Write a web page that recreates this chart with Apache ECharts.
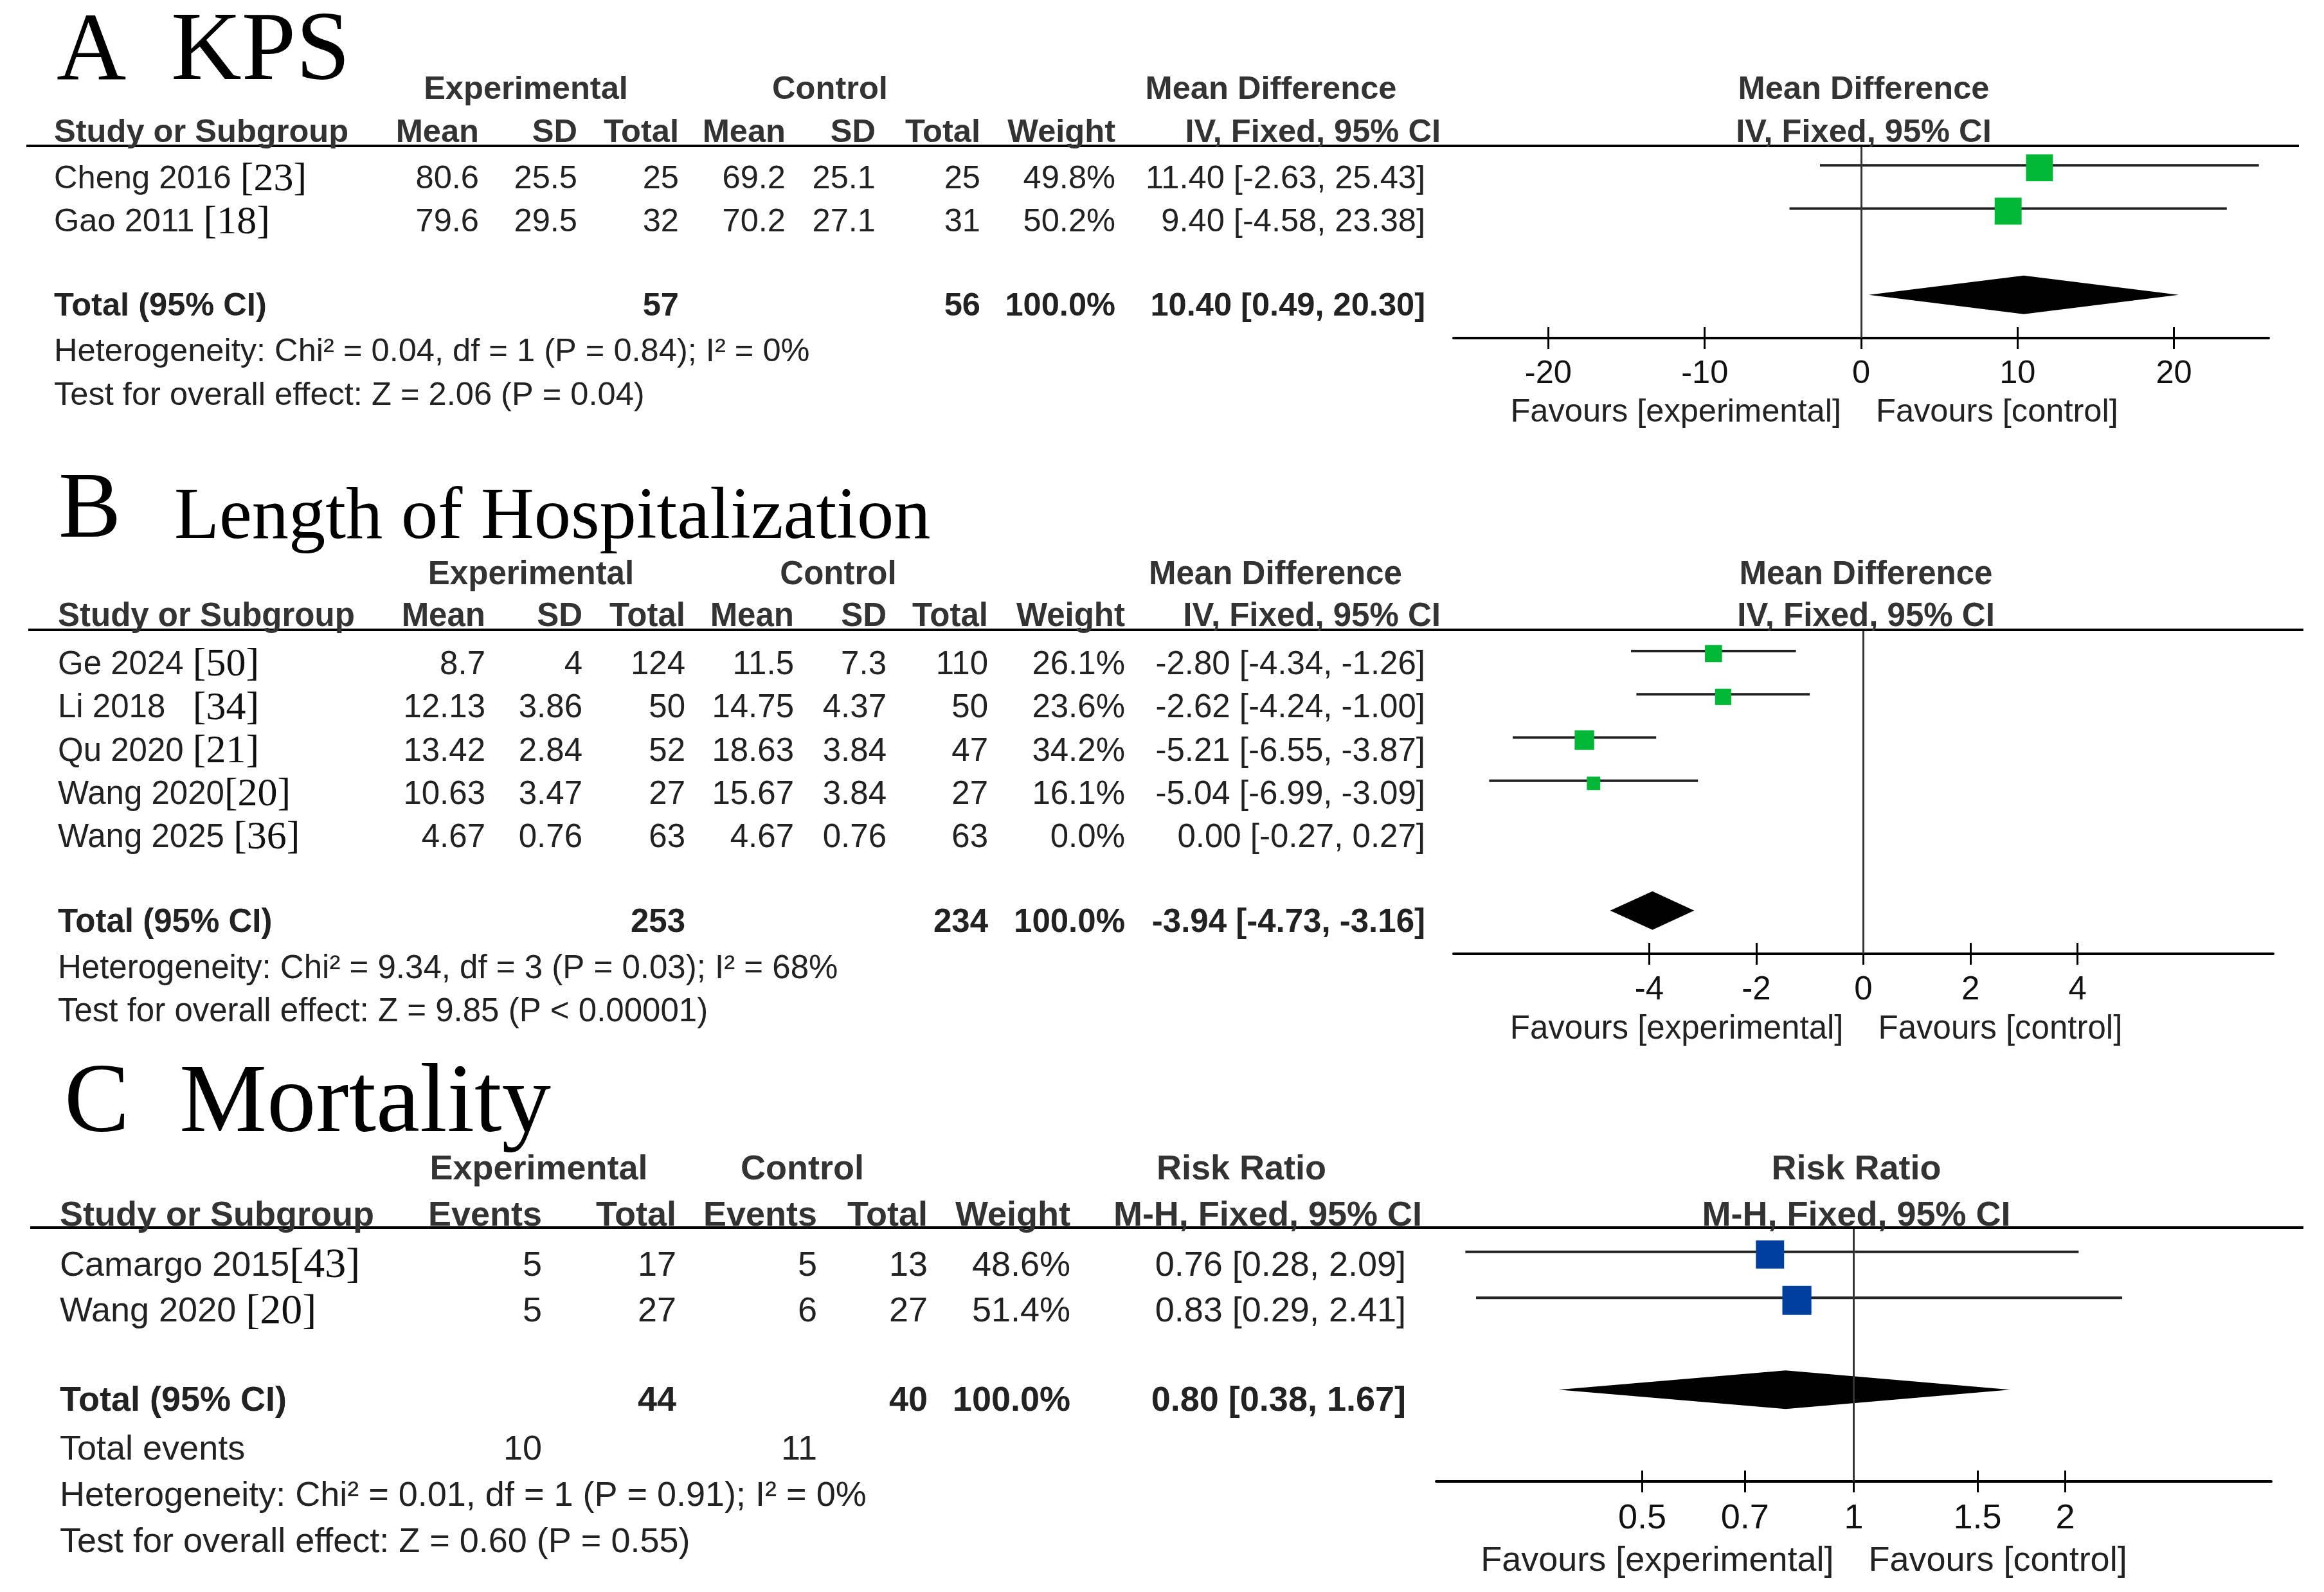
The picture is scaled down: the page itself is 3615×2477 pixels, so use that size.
<!DOCTYPE html>
<html><head><meta charset="utf-8">
<script src="https://cdn.jsdelivr.net/npm/echarts@6/dist/echarts.min.js"></script>
<style>html,body{margin:0;padding:0;background:#fff}#c{width:3615px;height:2477px}</style>
</head><body><div id="c"></div>
<script>
// ================= DATA =================
// ---- Panel A : KPS (Mean Difference) ----
const titleA = ['A', 'KPS'];
const studiesA = ['Cheng 2016 ', 'Gao 2011 '];
const refsA = ['[23]', '[18]'];
const expMeanA = [80.6, 79.6];
const expSdA = [25.5, 29.5];
const expNA = [25, 32];
const ctlMeanA = [69.2, 70.2];
const ctlSdA = [25.1, 27.1];
const ctlNA = [25, 31];
const weightA = [49.8, 50.2];
const mdA = [11.40, 9.40];
const loA = [-2.63, -4.58];
const hiA = [25.43, 23.38];
const totalNA = [57, 56];
const totalEstA = [10.40, 0.49, 20.30];
const hetA = 'Heterogeneity: Chi² = 0.04, df = 1 (P = 0.84); I² = 0%';
const testA = 'Test for overall effect: Z = 2.06 (P = 0.04)';
const ticksA = [-20, -10, 0, 10, 20];

// ---- Panel B : Length of Hospitalization (Mean Difference) ----
const titleB = ['B', 'Length of Hospitalization'];
const studiesB = ['Ge 2024 ', 'Li 2018   ', 'Qu 2020 ', 'Wang 2020', 'Wang 2025 '];
const refsB = ['[50]', '[34]', '[21]', '[20]', '[36]'];
const expMeanB = [8.7, 12.13, 13.42, 10.63, 4.67];
const expSdB = [4, 3.86, 2.84, 3.47, 0.76];
const expNB = [124, 50, 52, 27, 63];
const ctlMeanB = [11.5, 14.75, 18.63, 15.67, 4.67];
const ctlSdB = [7.3, 4.37, 3.84, 3.84, 0.76];
const ctlNB = [110, 50, 47, 27, 63];
const weightB = [26.1, 23.6, 34.2, 16.1, 0.0];
const mdB = [-2.80, -2.62, -5.21, -5.04, 0.00];
const loB = [-4.34, -4.24, -6.55, -6.99, -0.27];
const hiB = [-1.26, -1.00, -3.87, -3.09, 0.27];
const totalNB = [253, 234];
const totalEstB = [-3.94, -4.73, -3.16];
const hetB = 'Heterogeneity: Chi² = 9.34, df = 3 (P = 0.03); I² = 68%';
const testB = 'Test for overall effect: Z = 9.85 (P < 0.00001)';
const ticksB = [-4, -2, 0, 2, 4];

// ---- Panel C : Mortality (Risk Ratio) ----
const titleC = ['C', 'Mortality'];
const studiesC = ['Camargo 2015', 'Wang 2020 '];
const refsC = ['[43]', '[20]'];
const expEvC = [5, 5];
const expNC = [17, 27];
const ctlEvC = [5, 6];
const ctlNC = [13, 27];
const weightC = [48.6, 51.4];
const rrC = [0.76, 0.83];
const loC = [0.28, 0.29];
const hiC = [2.09, 2.41];
const totalNC = [44, 40];
const totalEstC = [0.80, 0.38, 1.67];
const totalEventsC = [10, 11];
const hetC = 'Heterogeneity: Chi² = 0.01, df = 1 (P = 0.91); I² = 0%';
const testC = 'Test for overall effect: Z = 0.60 (P = 0.55)';
const ticksC = [0.5, 0.7, 1, 1.5, 2];

// header texts
const head1MD = ['Experimental', 'Control', 'Mean Difference'];
const head1RR = ['Experimental', 'Control', 'Risk Ratio'];
const head2MD = ['Mean', 'SD', 'Total', 'Mean', 'SD', 'Total', 'Weight'];
const head2RR = ['Events', 'Total', 'Events', 'Total', 'Weight'];
const ciHeadMD = 'IV, Fixed, 95% CI';
const ciHeadRR = 'M-H, Fixed, 95% CI';
const plotHeadMD = ['Mean Difference', 'IV, Fixed, 95% CI'];
const plotHeadRR = ['Risk Ratio', 'M-H, Fixed, 95% CI'];
const favours = ['Favours [experimental]', 'Favours [control]'];

// ================= LAYOUT / STYLE =================
const SANS = 'Liberation Sans';
const SERIF = 'Liberation Serif';
const TXT = '#222';
const id = v => v;
const f2 = v => v.toFixed(2);
const ciStr = (e, l, h) => f2(e) + ' [' + f2(l) + ', ' + f2(h) + ']';
const pct = v => v.toFixed(1) + '%';
const sum = a => a.reduce((s, v) => s + v, 0);

const panels = [
  { // A
    fs: 50.6, refs: 62,
    grid: {top: 227, bottom: 526, left: 2261, right: 3529}, ymin: -0.45, ymax: 4, xmin: -26.06, xmax: 26.06,
    k: 5.92, color: '#00B836', tf: id, inv: id, ticks: ticksA,
    est: mdA, lo: loA, hi: hiA, w: weightA, total: totalEstA, totalRow: 3,
    lineX: [41, 3576],
    title: [{t: titleA[0], x: 88, s: 150}, {t: titleA[1], x: 266, s: 152}], baseline: 134,
    left: 84, cols: [745, 898, 1056, 1222, 1362, 1525, 1735], ciRight: 2217, ciHeadRight: 2241,
    head1: head1MD, head1X: [818, 1291, 1977], head2: head2MD, ciHead: ciHeadMD, plotHead: plotHeadMD,
    rH1: -2.03, rH2: -1.03,
    names: studiesA, refTexts: refsA,
    rows: studiesA.map((_, j) => [expMeanA[j], expSdA[j], expNA[j], ctlMeanA[j], ctlSdA[j], ctlNA[j], pct(weightA[j])].map(String)),
    ci: studiesA.map((_, j) => ciStr(mdA[j], loA[j], hiA[j])),
    totalCells: [[2, String(totalNA[0])], [5, String(totalNA[1])], [6, pct(sum(weightA))]],
    totalCI: ciStr(totalEstA[0], totalEstA[1], totalEstA[2]),
    extra: [],
    notes: [[hetA, 4.05], [testA, 5.05]],
    rowOff: 22, totOff: 18, favOff: 116, margin: 31
  },
  { // B
    fs: 51, refs: 62,
    grid: {top: 980, bottom: 1484, left: 2261, right: 3536}, ymin: -0.49, ymax: 7, xmin: -7.655, xmax: 7.655,
    k: 5.2, color: '#00B836', tf: id, inv: id, ticks: ticksB,
    est: mdB, lo: loB, hi: hiB, w: weightB, total: totalEstB, totalRow: 6,
    lineX: [44, 3583],
    title: [{t: titleB[0], x: 91, s: 146}, {t: titleB[1], x: 271, s: 114.5}], baseline: 846,
    left: 90, cols: [755, 906, 1066, 1235, 1379, 1537, 1750], ciRight: 2217, ciHeadRight: 2241,
    head1: head1MD, head1X: [826, 1304, 1984], head2: head2MD, ciHead: ciHeadMD, plotHead: plotHeadMD,
    rH1: -2.04, rH2: -1.07,
    names: studiesB, refTexts: refsB,
    rows: studiesB.map((_, j) => [expMeanB[j], expSdB[j], expNB[j], ctlMeanB[j], ctlSdB[j], ctlNB[j], pct(weightB[j])].map(String)),
    ci: studiesB.map((_, j) => ciStr(mdB[j], loB[j], hiB[j])),
    totalCells: [[2, String(totalNB[0])], [5, String(totalNB[1])], [6, pct(sum(weightB))]],
    totalCI: ciStr(totalEstB[0], totalEstB[1], totalEstB[2]),
    extra: [],
    notes: [[hetB, 7.07], [testB, 8.07]],
    rowOff: 22, totOff: 19, favOff: 118, margin: 31
  },
  { // C
    fs: 54, refs: 66,
    grid: {top: 1910, bottom: 2305, left: 2234, right: 3533}, ymin: -0.53, ymax: 5, xmin: -1.3686, xmax: 1.3686,
    k: 6.3, color: '#003F9E', tf: Math.log, inv: Math.exp, ticks: ticksC,
    est: rrC, lo: loC, hi: hiC, w: weightC, total: totalEstC, totalRow: 3,
    lineX: [47, 3583],
    title: [{t: titleC[0], x: 100, s: 152}, {t: titleC[1], x: 279, s: 153}], baseline: 1771,
    left: 93, cols: [843, 1052, 1271, 1443, 1665], ciRight: 2187, ciHeadRight: 2212,
    head1: head1RR, head1X: [838, 1248, 1931], head2: head2RR, ciHead: ciHeadRR, plotHead: plotHeadRR,
    rH1: -2.05, rH2: -1.05,
    names: studiesC, refTexts: refsC,
    rows: studiesC.map((_, j) => [expEvC[j], expNC[j], ctlEvC[j], ctlNC[j], pct(weightC[j])].map(String)),
    ci: studiesC.map((_, j) => ciStr(rrC[j], loC[j], hiC[j])),
    totalCells: [[1, String(totalNC[0])], [3, String(totalNC[1])], [4, pct(sum(weightC))]],
    totalCI: ciStr(totalEstC[0], totalEstC[1], totalEstC[2]),
    extra: [[4.05, 'Total events', [[0, String(totalEventsC[0])], [2, String(totalEventsC[1])]]]],
    notes: [[hetC, 5.06], [testC, 6.06]],
    rowOff: 22, totOff: 18, favOff: 124, margin: 31
  }
];

// ================= CHART =================
const chart = echarts.init(document.getElementById('c'), null, {renderer: 'canvas', width: 3615, height: 2477});

const option = {
  animation: false,
  backgroundColor: '#ffffff',
  textStyle: {fontFamily: SANS},
  grid: [], xAxis: [], yAxis: [], series: []
};

panels.forEach((d, i) => {
  const G = d.grid;
  option.grid.push({left: G.left, top: G.top, width: G.right - G.left, height: G.bottom - G.top,
    containLabel: false, outerBoundsMode: 'none', show: false});
  const tks = d.ticks.map(d.tf);
  option.xAxis.push({
    gridIndex: i, type: 'value', min: d.xmin, max: d.xmax, position: 'bottom',
    axisLine: {show: true, onZero: false, lineStyle: {color: '#000', width: 4}},
    axisTick: {show: true, inside: false, length: 17, customValues: tks, lineStyle: {color: '#000', width: 3}},
    axisLabel: {show: true, customValues: tks, margin: d.margin, fontSize: d.fs, fontFamily: SANS, color: '#111',
      formatter: v => String(+d.inv(v).toFixed(2))},
    splitLine: {show: false}
  });
  option.xAxis.push({
    gridIndex: i, type: 'value', min: d.xmin, max: d.xmax, position: 'bottom',
    axisLine: {show: false, onZero: false},
    axisTick: {show: true, inside: true, length: 17, customValues: tks, lineStyle: {color: '#000', width: 3}},
    axisLabel: {show: false}, splitLine: {show: false}
  });
  option.yAxis.push({gridIndex: i, type: 'value', inverse: true, min: d.ymin, max: d.ymax, show: false});

  const ciData = [], sqData = [];
  d.est.forEach((e, j) => {
    if (d.w[j] > 0) {
      ciData.push([d.tf(d.lo[j]), d.tf(d.hi[j]), j]);
      sqData.push([d.tf(e), j, d.w[j]]);
    }
  });
  // confidence interval lines + line of no effect
  option.series.push({
    type: 'custom', xAxisIndex: 2 * i, yAxisIndex: i, z: 2, silent: true,
    data: ciData, encode: {x: [0, 1], y: 2},
    renderItem: (params, api) => {
      const a = api.coord([api.value(0), api.value(2)]);
      const b = api.coord([api.value(1), api.value(2)]);
      return {type: 'line', shape: {x1: a[0], y1: a[1], x2: b[0], y2: b[1]}, style: {stroke: '#222', lineWidth: 4}};
    },
    markLine: {silent: true, symbol: ['none', 'none'], label: {show: false},
      lineStyle: {color: '#333', width: 3, type: 'solid'}, data: [{xAxis: d.tf(d.inv(0) === 0 ? 0 : 1)}]}
  });
  // study squares
  option.series.push({
    type: 'scatter', xAxisIndex: 2 * i, yAxisIndex: i, z: 3, silent: true,
    symbol: 'rect', symbolOffset: [0, 4], symbolSize: v => d.k * Math.sqrt(v[2]),
    itemStyle: {color: d.color, opacity: 1}, data: sqData
  });
  // pooled diamond
  option.series.push({
    type: 'custom', xAxisIndex: 2 * i, yAxisIndex: i, z: 3, silent: true,
    data: [[d.tf(d.total[1]), d.tf(d.total[0]), d.tf(d.total[2]), d.totalRow]], encode: {x: [0, 1, 2], y: 3},
    renderItem: (params, api) => {
      const r = api.value(3);
      const pl = api.coord([api.value(0), r]), pc = api.coord([api.value(1), r]), pr = api.coord([api.value(2), r]);
      const h = 30;
      return {type: 'polygon', shape: {points: [[pl[0], pl[1]], [pc[0], pc[1] - h], [pr[0], pr[1]], [pc[0], pc[1] + h]]},
        style: {fill: '#000'}};
    }
  });
});

chart.setOption(option);

// ================= TABLE TEXT (graphic) =================
const els = [];
panels.forEach((d, i) => {
  function T(x, y, text, o) {
    o = o || {};
    const al = o.align || 'left';
    const st = {text: text, fontFamily: o.family || SANS, fontSize: o.size || d.fs, fontWeight: o.bold ? 'bold' : 'normal',
      fill: o.fill || TXT, align: al, textAlign: al, verticalAlign: 'middle', textVerticalAlign: 'middle'};
    if (o.rich) st.rich = o.rich;
    return {type: 'text', x: x, y: y, silent: true, z: 10, style: st};
  }
  const py = r => chart.convertToPixel({xAxisIndex: 2 * i, yAxisIndex: i}, [0, r])[1];
  const ty = r => py(r) + 19;
  const tr = r => py(r) + d.rowOff;
  const zeroX = chart.convertToPixel({xAxisIndex: 2 * i, yAxisIndex: i}, [0, 0])[0];
  const axisY = py(d.ymax);
  const topY = py(d.ymin);
  // header rule
  els.push({type: 'line', silent: true, z: 9, shape: {x1: d.lineX[0], y1: topY, x2: d.lineX[1], y2: topY},
    style: {stroke: '#000', lineWidth: 4}});
  // title (serif)
  d.title.forEach(t => els.push(T(t.x, d.baseline - 0.3375 * t.s, t.t, {family: SERIF, size: t.s, fill: '#000'})));
  // header row 1
  d.head1.forEach((h, c) => els.push(T(d.head1X[c], ty(d.rH1), h, {bold: true, align: 'center', fill: '#333'})));
  // header row 2
  els.push(T(d.left, ty(d.rH2), 'Study or Subgroup', {bold: true, fill: '#333'}));
  d.head2.forEach((h, c) => els.push(T(d.cols[c], ty(d.rH2), h, {bold: true, align: 'right', fill: '#333'})));
  els.push(T(d.ciHeadRight, ty(d.rH2), d.ciHead, {bold: true, align: 'right', fill: '#333'}));
  // plot headers
  els.push(T(zeroX + 4, ty(d.rH1), d.plotHead[0], {bold: true, align: 'center', fill: '#333'}));
  els.push(T(zeroX + 4, ty(d.rH2), d.plotHead[1], {bold: true, align: 'center', fill: '#333'}));
  // study rows
  d.names.forEach((n, j) => {
    const y = tr(j);
    els.push(T(d.left, y, '{n|' + n + '}{r|' + d.refTexts[j] + '}', {
      rich: {n: {fontFamily: SANS, fontSize: d.fs, fill: TXT}, r: {fontFamily: SERIF, fontSize: d.refs, fill: '#111'}}}));
    d.rows[j].forEach((v, c) => els.push(T(d.cols[c], y, v, {align: 'right'})));
    els.push(T(d.ciRight, y, d.ci[j], {align: 'right'}));
  });
  // total row
  const yt = py(d.totalRow) + d.totOff;
  els.push(T(d.left, yt, 'Total (95% CI)', {bold: true}));
  d.totalCells.forEach(tc => els.push(T(d.cols[tc[0]], yt, tc[1], {bold: true, align: 'right'})));
  els.push(T(d.ciRight, yt, d.totalCI, {bold: true, align: 'right'}));
  // extra rows
  d.extra.forEach(ex => {
    els.push(T(d.left, ty(ex[0]), ex[1]));
    ex[2].forEach(tc => els.push(T(d.cols[tc[0]], ty(ex[0]), tc[1], {align: 'right'})));
  });
  // notes
  d.notes.forEach(nt => els.push(T(d.left, ty(nt[1]), nt[0])));
  // favours
  els.push(T(zeroX - 31, axisY + d.favOff, favours[0], {align: 'right'}));
  els.push(T(zeroX + 23, axisY + d.favOff, favours[1], {align: 'left'}));
});
chart.setOption({graphic: {elements: els}});
</script>
</body></html>
